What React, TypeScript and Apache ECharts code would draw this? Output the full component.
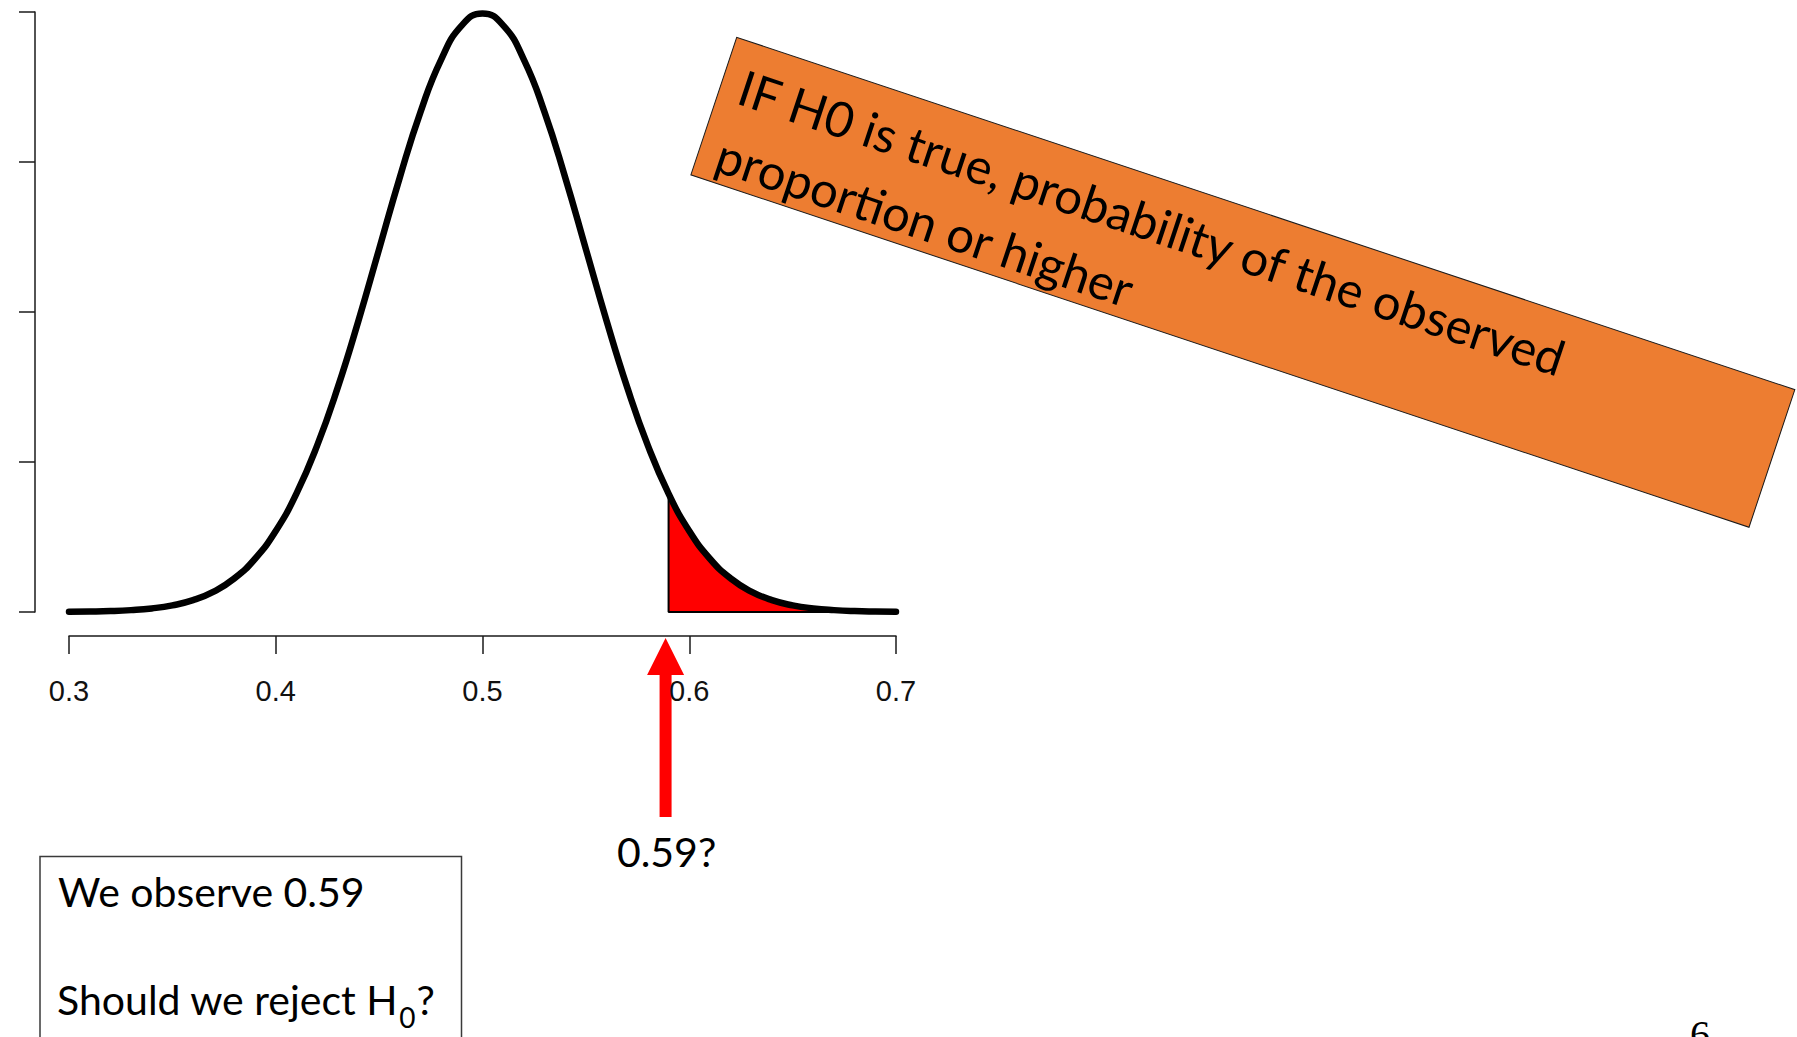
import React, { useEffect, useRef } from "react";
import * as echarts from "echarts";

// Sampling distribution of the sample proportion when H0 (p = 0.5) holds
const proportions = [
  0.3, 0.31, 0.32, 0.33, 0.34, 0.35, 0.36, 0.37, 0.38, 0.39, 0.4,
  0.41, 0.42, 0.43, 0.44, 0.45, 0.46, 0.47, 0.48, 0.49, 0.5,
  0.51, 0.52, 0.53, 0.54, 0.55, 0.56, 0.57, 0.58, 0.59, 0.6,
  0.61, 0.62, 0.63, 0.64, 0.65, 0.66, 0.67, 0.68, 0.69, 0.7,
];
const density = [
  0.003, 0.006, 0.012, 0.025, 0.048, 0.089, 0.158, 0.272, 0.448, 0.71, 1.08,
  1.579, 2.218, 2.995, 3.884, 4.839, 5.794, 6.665, 7.366, 7.821, 7.979,
  7.821, 7.366, 6.665, 5.794, 4.839, 3.884, 2.995, 2.218, 1.579, 1.08,
  0.71, 0.448, 0.272, 0.158, 0.089, 0.048, 0.025, 0.012, 0.006, 0.003,
];
const observed = 0.59;

// Axis ticks
const xTicks = [0.3, 0.4, 0.5, 0.6, 0.7];
const yTicks = [0, 2, 4, 6, 8];

// Annotation texts
const calloutLines = ["IF H0 is true, probability of the observed", "proportion or higher"];
const observedLabel = "0.59?";
const boxLine1 = "We observe 0.59";
const boxLine2Main = "Should we reject H";
const boxLine2Sub = "0";
const boxLine2End = "?";
const slideNumber = "6";

const TEXT_FONT = "Lato, 'Open Sans', sans-serif";

function measure(text: string, font: string): number {
  const ctx = document.createElement("canvas").getContext("2d");
  if (!ctx) return text.length * 18;
  ctx.font = font;
  return ctx.measureText(text).width;
}

export default function App() {
  const ref = useRef<HTMLDivElement>(null);

  useEffect(() => {
    if (!ref.current) return;
    const chart = echarts.init(ref.current, null, { renderer: "svg" });

    const curve = proportions.map((p, i) => [p, density[i]]);
    const tail = curve.filter((d) => d[0] >= observed);
    const tailStart = tail[0];
    const tailEnd = tail[tail.length - 1];
    const tailEdge = [
      [tailEnd[0], 0],
      [tailStart[0], 0],
      [tailStart[0], tailStart[1]],
    ];

    const axisColor = "#1a1a1a";

    chart.setOption({
      animation: false,
      backgroundColor: "#ffffff",
      grid: {
        left: 69,
        right: 901,
        top: 12,
        bottom: 425,
        outerBoundsMode: "none",
      },
      xAxis: {
        type: "value",
        min: xTicks[0],
        max: xTicks[xTicks.length - 1],
        interval: 0.1,
        offset: 24,
        axisLine: { show: true, onZero: false, lineStyle: { color: axisColor, width: 1.5 } },
        axisTick: { show: true, length: 18, lineStyle: { color: axisColor, width: 1.5 } },
        axisLabel: {
          show: true,
          margin: 40,
          fontFamily: "'Liberation Sans', Arial, sans-serif",
          fontSize: 29,
          color: "#111",
          formatter: (v: number) => String(Math.round(v * 10) / 10),
        },
        splitLine: { show: false },
      },
      yAxis: {
        type: "value",
        min: yTicks[0],
        max: yTicks[yTicks.length - 1],
        interval: 2,
        offset: 34,
        axisLine: { show: true, lineStyle: { color: axisColor, width: 1.5 } },
        axisTick: { show: true, length: 16, lineStyle: { color: axisColor, width: 1.5 } },
        axisLabel: { show: false },
        splitLine: { show: false },
      },
      series: [
        {
          name: "tail area",
          type: "line",
          data: tail,
          smooth: true,
          symbol: "none",
          lineStyle: { width: 0 },
          areaStyle: { color: "#ff0000", opacity: 1 },
          z: 1,
        },
        {
          name: "tail edge",
          type: "line",
          data: tailEdge,
          symbol: "none",
          lineStyle: { color: "#000", width: 2 },
          z: 2,
        },
        {
          name: "density",
          type: "line",
          data: curve,
          smooth: true,
          symbol: "none",
          lineStyle: { color: "#000", width: 6.5, cap: "round", join: "round" },
          z: 3,
        },
      ],
    });

    const arrowX = (chart.convertToPixel({ xAxisIndex: 0 }, observed) as number) - 3;
    const mainFont = `41px ${TEXT_FONT}`;
    const subFont = `28px ${TEXT_FONT}`;
    const calloutFont = `49px ${TEXT_FONT}`;
    const hWidth = measure(boxLine2Main, mainFont);
    const subWidth = measure(boxLine2Sub, subFont);

    chart.setOption({
      graphic: [
        {
          type: "group",
          x: 736.7,
          y: 37.3,
          rotation: -0.3218,
          children: [
            {
              type: "rect",
              shape: { x: 0, y: 0, width: 1115, height: 145 },
              style: { fill: "#ED7D31", stroke: "#1a1a1a", lineWidth: 1 },
            },
            {
              type: "text",
              x: 19,
              y: 44,
              style: {
                text: calloutLines[0],
                font: calloutFont,
                fill: "#000",
                align: "left",
                verticalAlign: "middle",
              },
            },
            {
              type: "text",
              x: 19,
              y: 115,
              style: {
                text: calloutLines[1],
                font: calloutFont,
                fill: "#000",
                align: "left",
                verticalAlign: "middle",
              },
            },
          ],
        },
        {
          type: "polygon",
          shape: {
            points: [
              [arrowX, 638],
              [arrowX + 18.5, 675],
              [arrowX + 6, 675],
              [arrowX + 6, 817],
              [arrowX - 6, 817],
              [arrowX - 6, 675],
              [arrowX - 18.5, 675],
            ],
          },
          style: { fill: "#ff0000" },
        },
        {
          type: "text",
          x: arrowX + 1,
          y: 851,
          style: {
            text: observedLabel,
            font: mainFont,
            fill: "#000",
            align: "center",
            verticalAlign: "middle",
          },
        },
        {
          type: "rect",
          shape: { x: 40, y: 856.5, width: 421.5, height: 220 },
          style: { fill: "#fff", stroke: "#3a3a3a", lineWidth: 1.5 },
        },
        {
          type: "text",
          x: 58,
          y: 891,
          style: { text: boxLine1, font: mainFont, fill: "#000", align: "left", verticalAlign: "middle" },
        },
        {
          type: "text",
          x: 57,
          y: 999.5,
          style: { text: boxLine2Main, font: mainFont, fill: "#000", align: "left", verticalAlign: "middle" },
        },
        {
          type: "text",
          x: 57 + hWidth + 1,
          y: 1017,
          style: { text: boxLine2Sub, font: subFont, fill: "#000", align: "left", verticalAlign: "middle" },
        },
        {
          type: "text",
          x: 57 + hWidth + subWidth + 2,
          y: 999.5,
          style: { text: boxLine2End, font: mainFont, fill: "#000", align: "left", verticalAlign: "middle" },
        },
        {
          type: "text",
          x: 1700,
          y: 1034,
          style: {
            text: slideNumber,
            font: "40px 'Liberation Serif', 'Times New Roman', serif",
            fill: "#000",
            align: "center",
            verticalAlign: "middle",
          },
        },
      ],
    });

    return () => chart.dispose();
  }, []);

  return (
    <div
      ref={ref}
      style={{ position: "fixed", left: 0, top: 0, width: 1797, height: 1037, background: "#fff" }}
    />
  );
}
